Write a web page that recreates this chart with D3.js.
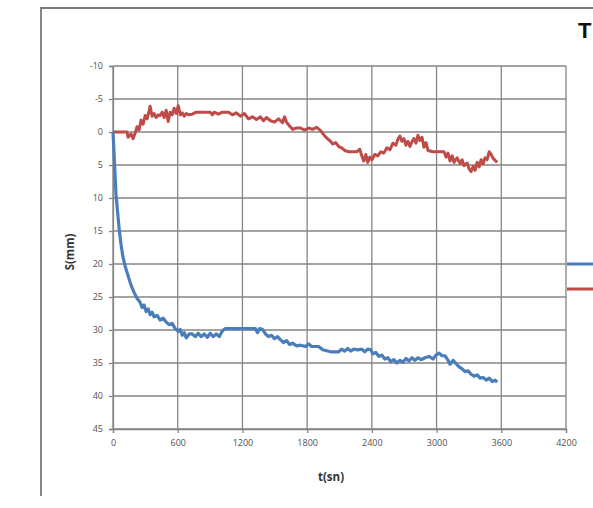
<!DOCTYPE html>
<html>
<head>
<meta charset="utf-8">
<script src="https://cdn.jsdelivr.net/npm/d3@7/dist/d3.min.js"></script>
<style>
  html, body { margin: 0; padding: 0; background: #fff; }
  svg { display: block; }
</style>
</head>
<body>
<svg id="chart" width="593" height="508"></svg>
<script>
// Settlement readings over time (t in seconds, S in mm, positive = downward)
const xTicks = [0, 600, 1200, 1800, 2400, 3000, 3600, 4200];
const yTicks = [-10, -5, 0, 5, 10, 15, 20, 25, 30, 35, 40, 45];

const blueT = [0, 9, 19, 28, 42, 56, 74, 93, 112, 140, 167, 195, 223, 251, 270, 288, 307, 326, 344, 363,
  381, 409, 437, 465, 493, 521, 549, 577, 605, 623, 642, 660, 679, 707, 735, 763, 790, 818, 846, 874,
  902, 930, 958, 986, 1004, 1023, 1042, 1135, 1228, 1321, 1339, 1358, 1386, 1414, 1442, 1470, 1497, 1525, 1553, 1581,
  1609, 1637, 1665, 1702, 1739, 1786, 1814, 1841, 1907, 1944, 2018, 2093, 2120, 2148, 2176, 2204, 2232, 2269, 2306, 2334,
  2362, 2390, 2409, 2437, 2465, 2492, 2520, 2548, 2576, 2604, 2632, 2660, 2688, 2716, 2744, 2771, 2799, 2827, 2855, 2893,
  2930, 2967, 2995, 3023, 3051, 3078, 3106, 3125, 3153, 3181, 3209, 3237, 3264, 3292, 3320, 3348, 3376, 3404, 3432, 3460,
  3488, 3515, 3543, 3562];
const blueS = [0, 3, 6.5, 9.5, 12, 14.5, 17, 19, 20.3, 21.8, 23.2, 24.3, 25.2, 25.8, 26.6, 26.2, 27.2, 26.8, 27.7, 27.3,
  28.0, 27.8, 28.5, 28.2, 28.8, 29.2, 29.0, 29.8, 30.2, 29.9, 30.8, 30.4, 31.2, 30.6, 30.6, 31.0, 30.5, 31.0, 30.6, 31.1,
  30.5, 31.0, 30.6, 31.0, 30.4, 30.0, 29.8, 29.8, 29.8, 29.8, 30.4, 29.8, 29.9, 30.6, 31.0, 30.8, 31.3, 31.0, 31.5, 31.9,
  31.6, 32.2, 32.0, 32.4, 32.3, 32.5, 32.1, 32.5, 32.5, 33.0, 33.3, 33.3, 32.9, 33.2, 32.8, 33.2, 32.9, 33.0, 32.9, 33.3,
  32.9, 33.0, 33.6, 33.4, 34.0, 33.8, 34.4, 34.2, 34.8, 34.5, 35.0, 34.6, 34.9, 34.3, 34.7, 34.2, 34.6, 34.2, 34.5, 34.2,
  34.0, 34.4, 33.8, 33.5, 33.9, 33.9, 34.6, 35.2, 34.6, 35.1, 35.6, 35.9, 36.3, 36.2, 36.7, 37.0, 36.8, 37.3, 37.2, 37.6,
  37.3, 37.8, 37.6, 37.9];

const redT = [0, 130, 140, 167, 186, 205, 223, 242, 260, 279, 298, 316, 335, 344, 363, 381, 400, 419, 437, 456,
  474, 493, 512, 530, 549, 567, 586, 605, 623, 642, 660, 679, 698, 735, 772, 846, 902, 921, 939, 977,
  1014, 1070, 1107, 1144, 1181, 1218, 1256, 1293, 1330, 1367, 1395, 1423, 1460, 1497, 1535, 1572, 1590, 1609, 1637, 1665,
  1702, 1739, 1777, 1814, 1851, 1888, 1925, 1953, 1981, 2009, 2037, 2065, 2093, 2120, 2148, 2186, 2223, 2260, 2288, 2306,
  2325, 2344, 2362, 2381, 2400, 2427, 2455, 2483, 2511, 2539, 2567, 2595, 2623, 2641, 2660, 2678, 2697, 2716, 2734, 2753,
  2771, 2790, 2809, 2827, 2846, 2865, 2883, 2902, 2920, 2967, 3023, 3069, 3088, 3106, 3125, 3144, 3162, 3190, 3218, 3237,
  3255, 3283, 3302, 3320, 3339, 3357, 3376, 3395, 3413, 3432, 3450, 3469, 3488, 3506, 3525, 3543, 3562];
const redS = [0, 0, 0.8, 0.3, 1.0, 0.2, -0.8, -0.3, -1.8, -1.2, -2.5, -2.0, -3.2, -3.9, -2.4, -2.8, -2.2, -2.6, -2.5, -3.0,
  -2.2, -3.3, -1.6, -3.0, -2.6, -3.6, -2.8, -4.0, -2.6, -2.9, -2.4, -2.8, -2.6, -2.7, -3.0, -3.0, -3.0, -2.6, -3.0, -2.7,
  -3.0, -3.0, -2.6, -2.9, -2.4, -2.8, -2.0, -2.3, -1.9, -2.3, -1.7, -2.2, -1.7, -1.5, -2.0, -1.4, -2.3, -1.5, -0.9, -0.4,
  -0.6, -0.6, -0.3, -0.6, -0.4, -0.7, -0.2, 0.4, 0.9, 1.3, 1.8, 1.6, 2.2, 2.4, 2.8, 3.0, 3.0, 3.0, 2.6, 3.6,
  4.4, 3.4, 4.6, 3.8, 4.2, 3.4, 3.6, 3.0, 3.2, 2.4, 2.7, 1.7, 2.0, 1.1, 0.6, 1.4, 1.0, 2.0, 1.4, 2.2,
  1.5, 1.0, 1.7, 0.5, 1.3, 0.8, 2.3, 1.6, 2.8, 3.0, 3.0, 3.0, 3.8, 3.2, 4.4, 3.6, 4.6, 3.9, 4.8, 4.2,
  5.1, 4.7, 5.6, 6.0, 5.2, 5.8, 4.6, 5.3, 4.2, 4.8, 3.9, 4.2, 3.0, 3.4, 4.0, 4.3, 4.6];

const blueColor = "#4a7ebb";
const redColor = "#be4b48";
const gridColor = "#858585";
const labelColor = "#505050";

const svg = d3.select("#chart");

// Outer chart frame (top and left edges)
svg.append("path")
  .attr("d", "M41,496 L41,8 L593,8")
  .attr("fill", "none")
  .attr("stroke", "#7a7a7a")
  .attr("stroke-width", 1.8);

const plot = { left: 113, right: 566, top: 66, bottom: 429 };

const x = d3.scaleLinear().domain([0, 4200]).range([plot.left, plot.right]);
const y = d3.scaleLinear().domain([-10, 45]).range([plot.top, plot.bottom]);

// Grid
const grid = svg.append("g");
grid.selectAll("line.h").data(yTicks).join("line")
  .attr("x1", plot.left).attr("x2", plot.right)
  .attr("y1", d => y(d)).attr("y2", d => y(d))
  .attr("stroke", gridColor).attr("stroke-width", 1.3);
grid.selectAll("line.v").data(xTicks).join("line")
  .attr("y1", plot.top).attr("y2", plot.bottom)
  .attr("x1", d => x(d)).attr("x2", d => x(d))
  .attr("stroke", gridColor).attr("stroke-width", 1.3);

// Axes (plain hyphen for negative labels)
const fmt = d => String(d);
const yAxis = d3.axisLeft(y).tickValues(yTicks).tickSize(4).tickPadding(6).tickFormat(fmt);
const xAxis = d3.axisBottom(x).tickValues(xTicks).tickSize(4).tickPadding(7).tickFormat(fmt);

const gy = svg.append("g").attr("transform", `translate(${plot.left},0)`).call(yAxis);
const gx = svg.append("g").attr("transform", `translate(0,${plot.bottom})`).call(xAxis);
[gx, gy].forEach(g => {
  g.select(".domain").attr("stroke", gridColor).attr("stroke-width", 1.3);
  g.selectAll(".tick line").attr("stroke", gridColor).attr("stroke-width", 1.3);
  g.selectAll(".tick text")
    .attr("fill", labelColor)
    .style("font-family", "'Open Sans', sans-serif")
    .style("font-size", "9px");
});

// Series
const line = d3.line().x(d => x(d[0])).y(d => y(d[1]));
const blueData = d3.zip(blueT, blueS);
const redData = d3.zip(redT, redS);

svg.append("path").datum(redData)
  .attr("d", line).attr("fill", "none")
  .attr("stroke", redColor).attr("stroke-width", 3)
  .attr("stroke-linejoin", "round");
svg.append("path").datum(blueData)
  .attr("d", line).attr("fill", "none")
  .attr("stroke", blueColor).attr("stroke-width", 3.2)
  .attr("stroke-linejoin", "round");

// Axis titles
svg.append("text")
  .attr("x", 331).attr("y", 481)
  .attr("text-anchor", "middle")
  .style("font-family", "'Open Sans', sans-serif")
  .style("font-weight", "bold").style("font-size", "11.5px")
  .attr("fill", "#333")
  .text("t(sn)");

svg.append("text")
  .attr("transform", "translate(74,252) rotate(-90)")
  .attr("text-anchor", "middle")
  .style("font-family", "'Open Sans', sans-serif")
  .style("font-weight", "bold").style("font-size", "11.5px")
  .attr("fill", "#333")
  .text("S(mm)");

// Title
svg.append("text")
  .attr("x", 578).attr("y", 38)
  .style("font-family", "'Liberation Sans', Arial, sans-serif")
  .style("font-weight", "bold").style("font-size", "22px")
  .attr("fill", "#111")
  .text("T");

// Legend swatches
const legend = svg.append("g");
legend.selectAll("line").data([blueColor, redColor]).join("line")
  .attr("x1", 567).attr("x2", 600)
  .attr("y1", (d, i) => 264 + i * 25).attr("y2", (d, i) => 264 + i * 25)
  .attr("stroke", d => d).attr("stroke-width", 3);
</script>
</body>
</html>
